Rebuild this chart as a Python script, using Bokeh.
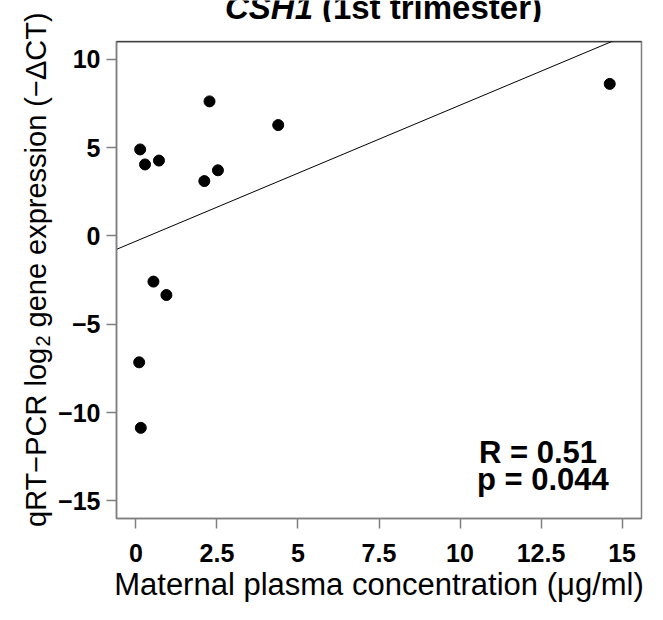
import numpy as np
from bokeh.plotting import figure
from bokeh.models import Label, Span, FixedTicker, Range1d
from bokeh.layouts import row, column
from bokeh.embed import file_html
from bokeh.resources import INLINE

# ---- data ----
conc = [0.13, 0.28, 0.71, 2.27, 2.11, 2.53, 0.54, 0.94, 0.10, 0.15, 4.39, 14.62]
expr = [4.89, 4.04, 4.26, 7.61, 3.10, 3.71, -2.59, -3.35, -7.16, -10.87, 6.27, 8.60]

x_ticks = [0, 2.5, 5, 7.5, 10, 12.5, 15]
x_tick_labels = ["0", "2.5", "5", "7.5", "10", "12.5", "15"]
y_ticks = [-15, -10, -5, 0, 5, 10]
y_tick_labels = ["\u221215", "\u221210", "\u22125", "0", "5", "10"]

title_italic = "CSH1"
title_rest = "(1st trimester)"
stat_r = "R = 0.51"
stat_p = "p = 0.044"
x_title = "Maternal plasma concentration (\u03bcg/ml)"
y_title_a = "qRT\u2212PCR log"
y_title_sub = "2"
y_title_b = "gene expression (\u2212\u0394CT)"

x_lim = (-0.6, 15.6)
y_lim = (-16.0, 11.0)

FONT = "Liberation Sans"
GRAY = "#808080"

# ---- layout (pixels) ----
W, H = 647, 604
YW = 54            # strip holding the rotated y title
TH = 22            # strip holding the title
MW, MH = W - YW, H - TH
BL, BR, BT, BB = 116 - YW, 6, 41 - TH, 80
FH = MH - BT - BB  # frame height in px
BFIX = 0.26        # baseline correction (fraction of font size)

def rx(px):   # reference-frame pixel -> data x
    return x_lim[0] + (px - 119.3) / (657.0 - 119.3) * (x_lim[1] - x_lim[0])

def ry(py):   # reference-frame pixel -> data y
    return y_lim[1] - (py - 41.7) / (537.7 - 41.7) * (y_lim[1] - y_lim[0])

def blank(width, height):
    f = figure(width=width, height=height, output_backend="svg", toolbar_location=None,
               x_range=Range1d(0, width), y_range=Range1d(0, height),
               x_axis_type=None, y_axis_type=None,
               min_border=0, min_border_left=0, min_border_right=0, min_border_top=0,
               min_border_bottom=0, title=None)
    f.outline_line_color = None
    f.xgrid.visible = False
    f.ygrid.visible = False
    f.background_fill_color = "white"
    f.border_fill_color = "white"
    return f

# ---- main plot ----
p = figure(width=MW, height=MH, output_backend="svg", toolbar_location=None,
           x_range=Range1d(*x_lim), y_range=Range1d(*y_lim), title=None,
           min_border_left=BL, min_border_right=BR, min_border_top=BT, min_border_bottom=BB)
p.background_fill_color = "white"
p.border_fill_color = "white"
p.xgrid.visible = False
p.ygrid.visible = False
p.outline_line_color = GRAY
p.outline_line_width = 1.5

for ax, ticks, labels in ((p.xaxis[0], x_ticks, x_tick_labels), (p.yaxis[0], y_ticks, y_tick_labels)):
    ax.ticker = FixedTicker(ticks=ticks)
    ax.major_label_overrides = dict(zip(ticks, labels))
    ax.axis_line_color = GRAY
    ax.axis_line_width = 1.5
    ax.major_tick_line_color = GRAY
    ax.major_tick_line_width = 1.5
    ax.major_tick_out = 10
    ax.major_tick_in = 0
    ax.minor_tick_line_color = None
    ax.major_label_text_font = FONT
    ax.major_label_text_font_style = "bold"
    ax.major_label_text_font_size = "25px"
    ax.major_label_text_color = "black"
p.xaxis[0].major_label_standoff = 15
p.yaxis[0].major_label_standoff = 6
p.xaxis[0].axis_label = x_title
p.xaxis[0].axis_label_text_font = FONT
p.xaxis[0].axis_label_text_font_style = "normal"
p.xaxis[0].axis_label_text_font_size = "31px"
p.xaxis[0].axis_label_text_color = "black"
p.xaxis[0].axis_label_standoff = 2

p.add_layout(Span(location=y_lim[1], dimension="width", line_color="black", line_width=1.5))

slope, intercept = np.polyfit(conc, expr, 1)
xf = np.array(x_lim)
p.line(xf, intercept + slope * xf, line_color="black", line_width=1)
p.scatter(conc, expr, size=11, color="black")

dy = BFIX * 31 / FH * (y_lim[1] - y_lim[0])
p.add_layout(Label(x=rx(551), y=ry(477) + dy, text=stat_r, text_font=FONT, text_font_style="bold",
                   text_font_size="31px", text_color="black", text_align="center",
                   text_baseline="alphabetic"))
p.add_layout(Label(x=rx(556), y=ry(505) + dy, text=stat_p, text_font=FONT, text_font_style="bold",
                   text_font_size="31px", text_color="black", text_align="center",
                   text_baseline="alphabetic"))

# ---- title strip (pixels inside the strip, y up from strip bottom) ----
t = blank(MW, TH)
base_y = TH - 16 + BFIX * 33
t.add_layout(Label(x=222, y=base_y, text=title_italic, text_font=FONT,
                   text_font_style="bold italic", text_font_size="33px", text_color="black",
                   text_align="right", text_baseline="alphabetic"))
t.add_layout(Label(x=232, y=base_y, text=title_rest, text_font=FONT,
                   text_font_style="bold", text_font_size="33px", text_color="black",
                   text_align="left", text_baseline="alphabetic"))

# ---- y title strip (pixels, y up from figure bottom) ----
yt = blank(YW, H)
ang = np.pi / 2
yt.add_layout(Label(x=43 - BFIX * 29, y=H - 526.5, text=y_title_a, text_font=FONT,
                    text_font_size="29px", text_color="black", angle=ang,
                    text_align="left", text_baseline="alphabetic"))
yt.add_layout(Label(x=48 - BFIX * 20, y=H - 346, text=y_title_sub, text_font=FONT,
                    text_font_size="20px", text_color="black", angle=ang,
                    text_align="left", text_baseline="alphabetic"))
yt.add_layout(Label(x=43 - BFIX * 29, y=H - 327, text=y_title_b, text_font=FONT,
                    text_font_size="29px", text_color="black", angle=ang,
                    text_align="left", text_baseline="alphabetic"))

layout = row(yt, column(t, p, spacing=0), spacing=0)
open("out.html", "w").write(file_html(layout, INLINE))
